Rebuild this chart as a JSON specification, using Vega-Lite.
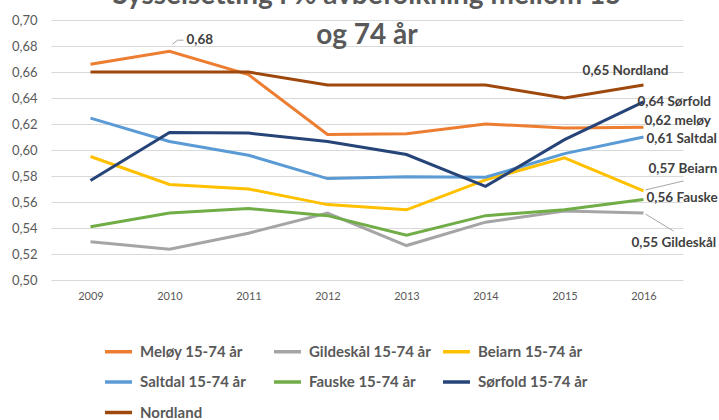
{
  "$schema": "https://vega.github.io/schema/vega-lite/v6.json",
  "autosize": {"type": "none"},
  "width": 632,
  "height": 260,
  "padding": {"left": 51, "top": 20, "right": 36, "bottom": 140},
  "background": "white",
  "title": {
    "text": ["Sysselsetting i % avbefolkning mellom 15", "og 74 år"],
    "font": "Lato",
    "fontSize": 28,
    "fontWeight": "bold",
    "color": "#595959",
    "anchor": "middle",
    "frame": "group",
    "baseline": "bottom",
    "lineHeight": 40,
    "offset": -64
  },
  "config": {
    "view": {"stroke": null},
    "font": "Lato",
    "text": {"font": "Lato", "fontWeight": "bold", "fontSize": 13.5, "color": "#404040"}
  },
  "data": {
    "values": [
      {"series": "Meløy 15-74 år", "year": "2009", "value": 0.666},
      {"series": "Meløy 15-74 år", "year": "2010", "value": 0.676, "label": "0,68"},
      {"series": "Meløy 15-74 år", "year": "2011", "value": 0.658},
      {"series": "Meløy 15-74 år", "year": "2012", "value": 0.612},
      {"series": "Meløy 15-74 år", "year": "2013", "value": 0.6125},
      {"series": "Meløy 15-74 år", "year": "2014", "value": 0.620},
      {"series": "Meløy 15-74 år", "year": "2015", "value": 0.617},
      {"series": "Meløy 15-74 år", "year": "2016", "value": 0.6175, "label": "0,62 meløy"},
      {"series": "Gildeskål 15-74 år", "year": "2009", "value": 0.5295},
      {"series": "Gildeskål 15-74 år", "year": "2010", "value": 0.5236},
      {"series": "Gildeskål 15-74 år", "year": "2011", "value": 0.536},
      {"series": "Gildeskål 15-74 år", "year": "2012", "value": 0.5515},
      {"series": "Gildeskål 15-74 år", "year": "2013", "value": 0.5265},
      {"series": "Gildeskål 15-74 år", "year": "2014", "value": 0.5445},
      {"series": "Gildeskål 15-74 år", "year": "2015", "value": 0.553},
      {"series": "Gildeskål 15-74 år", "year": "2016", "value": 0.5515, "label": "0,55 Gildeskål"},
      {"series": "Beiarn 15-74 år", "year": "2009", "value": 0.595},
      {"series": "Beiarn 15-74 år", "year": "2010", "value": 0.5735},
      {"series": "Beiarn 15-74 år", "year": "2011", "value": 0.570},
      {"series": "Beiarn 15-74 år", "year": "2012", "value": 0.558},
      {"series": "Beiarn 15-74 år", "year": "2013", "value": 0.554},
      {"series": "Beiarn 15-74 år", "year": "2014", "value": 0.577},
      {"series": "Beiarn 15-74 år", "year": "2015", "value": 0.594},
      {"series": "Beiarn 15-74 år", "year": "2016", "value": 0.5685, "label": "0,57 Beiarn"},
      {"series": "Saltdal 15-74 år", "year": "2009", "value": 0.6245},
      {"series": "Saltdal 15-74 år", "year": "2010", "value": 0.6065},
      {"series": "Saltdal 15-74 år", "year": "2011", "value": 0.596},
      {"series": "Saltdal 15-74 år", "year": "2012", "value": 0.578},
      {"series": "Saltdal 15-74 år", "year": "2013", "value": 0.5795},
      {"series": "Saltdal 15-74 år", "year": "2014", "value": 0.579},
      {"series": "Saltdal 15-74 år", "year": "2015", "value": 0.5972},
      {"series": "Saltdal 15-74 år", "year": "2016", "value": 0.610, "label": "0,61 Saltdal"},
      {"series": "Fauske  15-74 år", "year": "2009", "value": 0.541},
      {"series": "Fauske  15-74 år", "year": "2010", "value": 0.5515},
      {"series": "Fauske  15-74 år", "year": "2011", "value": 0.555},
      {"series": "Fauske  15-74 år", "year": "2012", "value": 0.5495},
      {"series": "Fauske  15-74 år", "year": "2013", "value": 0.5345},
      {"series": "Fauske  15-74 år", "year": "2014", "value": 0.5495},
      {"series": "Fauske  15-74 år", "year": "2015", "value": 0.554},
      {"series": "Fauske  15-74 år", "year": "2016", "value": 0.562, "label": "0,56 Fauske"},
      {"series": "Sørfold 15-74 år", "year": "2009", "value": 0.5765},
      {"series": "Sørfold 15-74 år", "year": "2010", "value": 0.6135},
      {"series": "Sørfold 15-74 år", "year": "2011", "value": 0.613},
      {"series": "Sørfold 15-74 år", "year": "2012", "value": 0.6065},
      {"series": "Sørfold 15-74 år", "year": "2013", "value": 0.5965},
      {"series": "Sørfold 15-74 år", "year": "2014", "value": 0.572},
      {"series": "Sørfold 15-74 år", "year": "2015", "value": 0.608},
      {"series": "Sørfold 15-74 år", "year": "2016", "value": 0.637, "label": "0,64 Sørfold"},
      {"series": "Nordland", "year": "2009", "value": 0.66},
      {"series": "Nordland", "year": "2010", "value": 0.66},
      {"series": "Nordland", "year": "2011", "value": 0.66},
      {"series": "Nordland", "year": "2012", "value": 0.65},
      {"series": "Nordland", "year": "2013", "value": 0.65},
      {"series": "Nordland", "year": "2014", "value": 0.65},
      {"series": "Nordland", "year": "2015", "value": 0.64},
      {"series": "Nordland", "year": "2016", "value": 0.65, "label": "0,65 Nordland"}
    ]
  },
  "encoding": {
    "x": {
      "field": "year",
      "type": "ordinal",
      "scale": {"type": "point", "padding": 0.5},
      "axis": {
        "title": null,
        "labelAngle": 0,
        "domain": false,
        "ticks": false,
        "grid": false,
        "labelFont": "Lato",
        "labelFontSize": 11,
        "labelColor": "#595959",
        "labelPadding": 10
      }
    },
    "y": {
      "field": "value",
      "type": "quantitative",
      "scale": {"domain": [0.5, 0.7], "zero": false, "nice": false},
      "axis": {
        "title": null,
        "values": [0.5, 0.52, 0.54, 0.56, 0.58, 0.6, 0.62, 0.64, 0.66, 0.68, 0.7],
        "labelExpr": "replace(format(datum.value, '.2f'), '.', ',')",
        "domain": false,
        "ticks": false,
        "gridColor": "#D9D9D9",
        "gridWidth": 1,
        "labelFont": "Lato",
        "labelFontSize": 13,
        "labelColor": "#595959",
        "labelPadding": 14
      }
    }
  },
  "layer": [
    {
      "mark": {"type": "line", "strokeWidth": 3, "strokeJoin": "miter"},
      "encoding": {
        "color": {
          "field": "series",
          "type": "nominal",
          "scale": {
            "domain": ["Meløy 15-74 år", "Gildeskål 15-74 år", "Beiarn 15-74 år", "Saltdal 15-74 år", "Fauske  15-74 år", "Sørfold 15-74 år", "Nordland"],
            "range": ["#ED7D31", "#A5A5A5", "#FFC000", "#5B9BD5", "#70AD47", "#264478", "#9E480E"]
          },
          "legend": {
            "title": null,
            "orient": "none",
            "legendX": 52,
            "legendY": 316,
            "direction": "horizontal",
            "columns": 3,
            "gridAlign": "all",
            "columnPadding": 5,
            "rowPadding": 6.5,
            "symbolType": "stroke",
            "symbolSize": 729,
            "symbolStrokeWidth": 3.5,
            "labelFont": "Lato",
            "labelFontSize": 15,
            "labelFontWeight": "bold",
            "labelColor": "#595959",
            "labelOffset": 6,
            "labelLimit": 300
          }
        }
      }
    },
    {
      "transform": [{"filter": "datum.series == 'Beiarn 15-74 år' && datum.label != null"}],
      "mark": {"type": "rule", "color": "#A6A6A6", "strokeWidth": 1, "xOffset": 2, "yOffset": -1, "x2Offset": 40, "y2Offset": -10},
      "encoding": {"x2": {"field": "year"}, "y2": {"field": "value"}}
    },
    {
      "transform": [{"filter": "datum.series == 'Gildeskål 15-74 år' && datum.label != null"}],
      "mark": {"type": "rule", "color": "#A6A6A6", "strokeWidth": 1, "xOffset": 2, "yOffset": 1, "x2Offset": 30, "y2Offset": 18},
      "encoding": {"x2": {"field": "year"}, "y2": {"field": "value"}}
    },
    {
      "transform": [{"filter": "datum.series == 'Meløy 15-74 år' && datum.year == '2010'"}],
      "mark": {"type": "rule", "color": "#A6A6A6", "strokeWidth": 1, "xOffset": 3, "yOffset": -7, "x2Offset": 8, "y2Offset": -11},
      "encoding": {"x2": {"field": "year"}, "y2": {"field": "value"}}
    },
    {
      "transform": [{"filter": "datum.series == 'Meløy 15-74 år' && datum.year == '2010'"}],
      "mark": {"type": "rule", "color": "#A6A6A6", "strokeWidth": 1, "xOffset": 8, "yOffset": -11, "x2Offset": 14, "y2Offset": -11},
      "encoding": {"x2": {"field": "year"}, "y2": {"field": "value"}}
    },
    {
      "transform": [{"filter": "datum.series == 'Meløy 15-74 år' && datum.year == '2010'"}],
      "mark": {"type": "text", "align": "left", "baseline": "middle", "dx": 17, "dy": -11},
      "encoding": {"text": {"field": "label"}}
    },
    {
      "transform": [{"filter": "datum.series == 'Nordland' && datum.year == '2016'"}],
      "mark": {"type": "text", "align": "center", "baseline": "middle", "dx": -18, "dy": -14},
      "encoding": {"text": {"field": "label"}}
    },
    {
      "transform": [{"filter": "datum.series == 'Sørfold 15-74 år' && datum.year == '2016'"}],
      "mark": {"type": "text", "align": "left", "baseline": "middle", "dx": -6, "dy": 0},
      "encoding": {"text": {"field": "label"}}
    },
    {
      "transform": [{"filter": "datum.series == 'Meløy 15-74 år' && datum.year == '2016'"}],
      "mark": {"type": "text", "align": "left", "baseline": "middle", "dx": 1, "dy": -6},
      "encoding": {"text": {"field": "label"}}
    },
    {
      "transform": [{"filter": "datum.series == 'Saltdal 15-74 år' && datum.year == '2016'"}],
      "mark": {"type": "text", "align": "left", "baseline": "middle", "dx": 3, "dy": 2},
      "encoding": {"text": {"field": "label"}}
    },
    {
      "transform": [{"filter": "datum.series == 'Beiarn 15-74 år' && datum.year == '2016'"}],
      "mark": {"type": "text", "align": "left", "baseline": "middle", "dx": 5, "dy": -22},
      "encoding": {"text": {"field": "label"}}
    },
    {
      "transform": [{"filter": "datum.series == 'Fauske  15-74 år' && datum.year == '2016'"}],
      "mark": {"type": "text", "align": "left", "baseline": "middle", "dx": 3, "dy": -1},
      "encoding": {"text": {"field": "label"}}
    },
    {
      "transform": [{"filter": "datum.series == 'Gildeskål 15-74 år' && datum.year == '2016'"}],
      "mark": {"type": "text", "align": "left", "baseline": "middle", "dx": -12, "dy": 30},
      "encoding": {"text": {"field": "label"}}
    }
  ]
}
